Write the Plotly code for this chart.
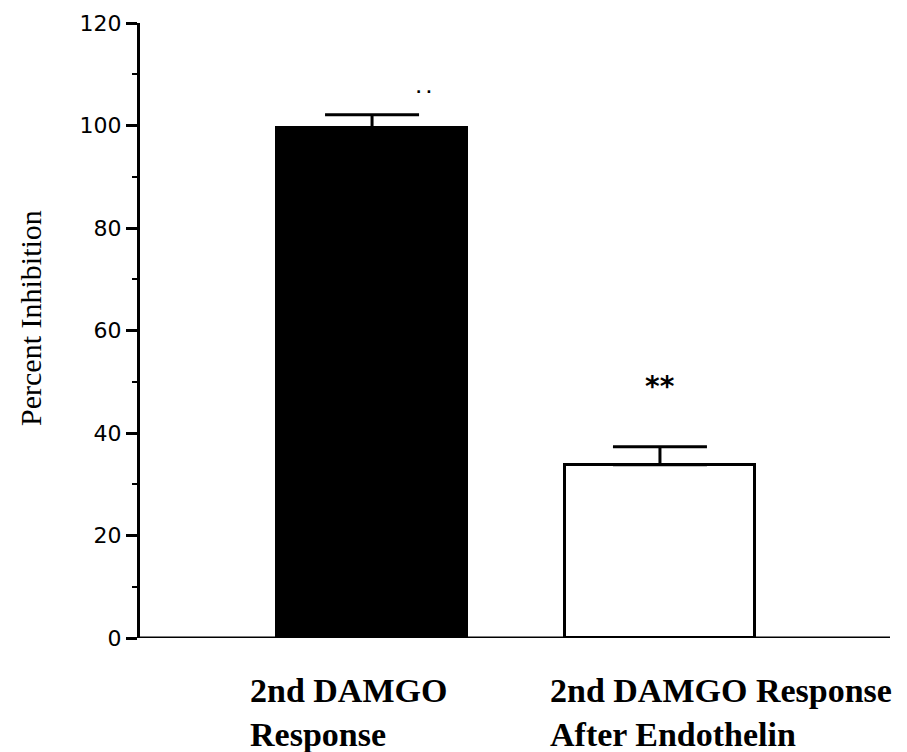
import plotly.graph_objects as go

# Data
groups = ["2nd DAMGO<br>Response", "2nd DAMGO Response<br>After Endothelin"]
inhibition = [99.5, 33.8]
sem = [2.6, 3.5]
bar_fill = ["black", "white"]
y_ticks = [0, 20, 40, 60, 80, 100, 120]
y_title = "Percent Inhibition"
significance = "**"
sig_y = 49.8

xpos = list(range(len(groups)))

fig = go.Figure()
fig.add_trace(go.Bar(
    x=xpos,
    y=inhibition,
    width=0.66,
    marker=dict(color=bar_fill, line=dict(color="black", width=3)),
    error_y=dict(type="data", symmetric=False, array=sem,
                 arrayminus=[0] * len(sem), color="black",
                 thickness=3, width=47),
    showlegend=False,
))

serif = "Liberation Serif, Times New Roman, serif"
sans = "DejaVu Sans, Verdana, sans-serif"

# category labels below the axis, left-aligned
for i, g in enumerate(groups):
    fig.add_annotation(
        x=i - 0.43 if i == 0 else i - 0.39, y=0, xref="x", yref="y",
        text="<b>" + g + "</b>", showarrow=False, xanchor="left", yanchor="top",
        align="left", yshift=-32,
        font=dict(family=serif, size=34, color="black"),
    )

# y axis title, placed a little above the axis midpoint
fig.add_annotation(x=-0.147, y=0.52, xref="paper", yref="paper",
                   text=y_title, textangle=-90, showarrow=False,
                   xanchor="center", yanchor="middle",
                   font=dict(family=serif, size=30, color="black"))

# significance marker
fig.add_annotation(x=1, y=sig_y, text="<b>" + significance + "</b>",
                   showarrow=False, yshift=-4,
                   font=dict(family=sans, size=28, color="black"),
                   xanchor="center", yanchor="middle")

# faint dots above the first bar
fig.add_annotation(x=0.18, y=107.3, text="<b>. .</b>", showarrow=False,
                   font=dict(family=sans, size=14, color="black"),
                   xanchor="center", yanchor="middle")

fig.update_layout(
    width=907, height=752,
    margin=dict(l=140, r=17, t=23, b=114),
    paper_bgcolor="white", plot_bgcolor="white",
    bargap=0,
    xaxis=dict(range=[-0.806, 1.799], showticklabels=False, ticks="",
               showgrid=False, zeroline=False, showline=False, fixedrange=True),
    yaxis=dict(range=[0, 120], tickvals=y_ticks, ticks="outside",
               ticklen=11, tickwidth=2.5, tickcolor="black",
               showline=True, linewidth=3, linecolor="black",
               showgrid=False, zeroline=False,
               tickfont=dict(family=sans, size=22, color="black"),
               minor=dict(dtick=10, ticks="outside", ticklen=5,
                          tickwidth=2, tickcolor="black")),
)

# x axis baseline with a small end tick
fig.add_shape(type="line", xref="paper", yref="y", x0=0, x1=1, y0=0, y1=0,
              line=dict(color="black", width=3))
fig.add_shape(type="line", xref="paper", yref="y", x0=1, x1=1, y0=0, y1=-1.3,
              line=dict(color="black", width=3))

fig.write_html("out.html")
